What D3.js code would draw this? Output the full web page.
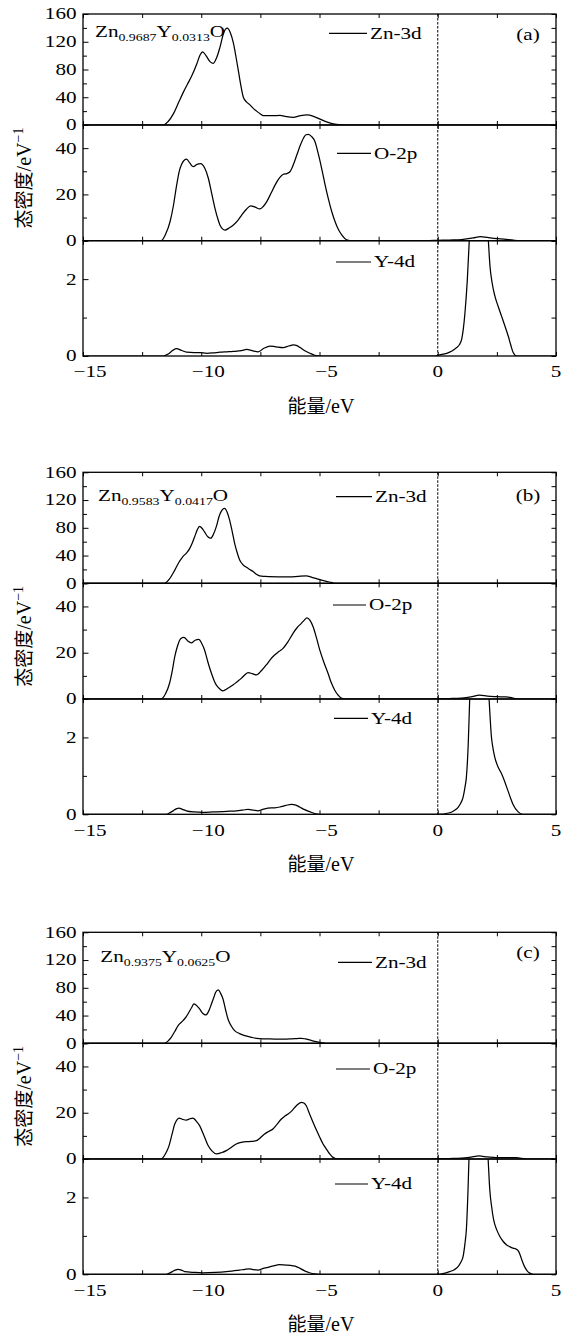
<!DOCTYPE html>
<html>
<head>
<meta charset="utf-8">
<script src="https://cdn.jsdelivr.net/npm/d3@7"></script>
<style>
  body { margin: 0; background: #fff; }
</style>
</head>
<body>
<div id="chart"></div>
<script>
// ---- data ----
// each series: [energy (eV), density of states]
const zn3dA = [[-15,0],[-11.6,0],[-11.4,5],[-11.18,16],[-10.95,33],[-10.76,47],[-10.58,59],[-10.40,71],[-10.19,88],[-10.05,101],[-9.94,105.5],[-9.80,100],[-9.62,91],[-9.49,89],[-9.35,97],[-9.21,112],[-9.05,133],[-8.90,139.5],[-8.77,133],[-8.64,118],[-8.53,98],[-8.43,78],[-8.32,56],[-8.22,40],[-8.08,33],[-7.94,29],[-7.80,24],[-7.66,20],[-7.5,16],[-7.38,13.5],[-7.0,13.5],[-6.67,13.8],[-6.40,12],[-6.11,11],[-5.80,13.5],[-5.54,14.5],[-5.25,12.5],[-4.98,8.5],[-4.7,4.5],[-4.42,1.5],[-4.1,0.2],[-3.9,0],[5,0]];
const o2pA = [[-15,0],[-11.7,0],[-11.5,3],[-11.32,8.2],[-11.18,15],[-11.04,24],[-10.93,30],[-10.83,33],[-10.72,34.8],[-10.62,35.2],[-10.48,33.5],[-10.34,32],[-10.18,33],[-10.02,33.3],[-9.86,31.5],[-9.70,27],[-9.55,20],[-9.42,14],[-9.30,9.5],[-9.21,6.8],[-9.0,4.6],[-8.82,5.5],[-8.64,6.8],[-8.45,8.8],[-8.29,11.1],[-8.1,13.5],[-7.91,15.1],[-7.72,14.5],[-7.52,13.7],[-7.38,14.8],[-7.23,16.9],[-7.05,20.5],[-6.88,24],[-6.70,27],[-6.53,28.7],[-6.38,29],[-6.25,29.8],[-6.10,33],[-5.96,37],[-5.82,41],[-5.68,44.3],[-5.57,45.8],[-5.47,46],[-5.33,45],[-5.19,42.8],[-5.05,37.5],[-4.91,31.3],[-4.77,24.5],[-4.63,18.3],[-4.48,12.5],[-4.34,8.2],[-4.2,4.8],[-4.06,2.5],[-3.85,0.4],[-3.6,0],[-0.5,0],[0,0.15],[0.5,0.3],[1.0,0.5],[1.5,1.2],[1.8,1.8],[2.1,1.4],[2.5,0.9],[2.8,0.7],[3.2,0.2],[3.5,0],[5,0]];
const y4dA = [[-15,0],[-11.6,0],[-11.4,0.05],[-11.2,0.15],[-11.04,0.19],[-10.85,0.15],[-10.62,0.10],[-10.3,0.09],[-10.05,0.09],[-9.77,0.07],[-9.5,0.08],[-9.21,0.10],[-8.9,0.11],[-8.64,0.12],[-8.3,0.14],[-8.08,0.17],[-7.85,0.14],[-7.59,0.11],[-7.35,0.2],[-7.10,0.26],[-6.85,0.24],[-6.54,0.22],[-6.3,0.26],[-6.11,0.29],[-5.95,0.27],[-5.82,0.22],[-5.6,0.13],[-5.40,0.07],[-5.2,0.02],[-4.98,0],[-0.1,0],[0,0.02],[0.38,0.07],[0.6,0.13],[0.80,0.22],[0.92,0.3],[1.01,0.43],[1.08,0.7],[1.15,1.12],[1.25,1.98],[1.33,2.97],[1.45,4.2],[1.75,5],[2.0,4.5],[2.14,3.0],[2.21,2.33],[2.30,1.9],[2.42,1.55],[2.56,1.28],[2.70,1.03],[2.84,0.78],[2.98,0.52],[3.09,0.28],[3.19,0.09],[3.34,0],[5,0]];

const zn3dB = [[-15,0],[-11.55,0],[-11.35,6],[-11.12,19],[-10.95,30],[-10.80,37.5],[-10.62,44],[-10.49,50],[-10.38,58],[-10.28,67],[-10.17,77],[-10.07,82],[-9.96,79],[-9.86,74],[-9.72,67],[-9.60,65],[-9.48,71],[-9.36,82],[-9.25,96],[-9.15,104],[-9.01,108],[-8.90,102],[-8.80,91],[-8.70,76],[-8.59,58],[-8.48,44],[-8.38,34],[-8.24,27],[-8.09,23],[-7.95,20],[-7.81,17],[-7.67,13],[-7.53,10.6],[-7.3,10],[-7.11,9.6],[-6.7,9.3],[-6.26,9.2],[-5.9,10],[-5.56,10.6],[-5.35,9],[-5.13,6.7],[-4.92,4.5],[-4.71,2.9],[-4.5,1.2],[-4.29,0],[5,0]];
const o2pB = [[-15,0],[-11.7,0],[-11.5,2.5],[-11.34,6.8],[-11.22,12.5],[-11.12,18.3],[-11.0,23],[-10.91,25.5],[-10.80,26.5],[-10.73,26.6],[-10.58,25.2],[-10.42,24.3],[-10.26,25.4],[-10.10,25.8],[-9.98,24],[-9.86,21.2],[-9.72,16],[-9.57,11.1],[-9.45,7.8],[-9.36,6.0],[-9.22,4.4],[-9.08,3.5],[-8.88,4.6],[-8.66,6.0],[-8.48,7.5],[-8.31,8.9],[-8.15,10.5],[-8.02,11.4],[-7.85,11],[-7.67,10.4],[-7.45,12.3],[-7.25,14.7],[-7.08,17],[-6.90,19],[-6.72,20.5],[-6.54,21.9],[-6.33,24.8],[-6.12,28.4],[-5.95,30.8],[-5.77,32.7],[-5.65,34],[-5.53,35.1],[-5.40,34],[-5.27,31.2],[-5.13,26.5],[-4.99,21.2],[-4.82,16],[-4.64,11.1],[-4.50,7],[-4.36,3.9],[-4.2,1.5],[-4.08,0.4],[-3.87,0],[-0.3,0],[0,0.1],[0.5,0.2],[1.0,0.4],[1.4,0.9],[1.77,1.7],[2.1,1.2],[2.48,1.0],[2.9,0.9],[3.15,0.5],[3.32,0.1],[3.5,0],[5,0]];
const y4dB = [[-15,0],[-11.48,0],[-11.30,0.05],[-11.19,0.09],[-11.06,0.14],[-10.94,0.16],[-10.80,0.13],[-10.63,0.09],[-10.3,0.06],[-9.93,0.05],[-9.5,0.06],[-9.08,0.07],[-8.8,0.08],[-8.52,0.09],[-8.25,0.11],[-8.02,0.13],[-7.80,0.11],[-7.60,0.09],[-7.40,0.13],[-7.18,0.16],[-6.90,0.17],[-6.68,0.19],[-6.42,0.23],[-6.19,0.26],[-6.0,0.24],[-5.84,0.19],[-5.63,0.12],[-5.42,0.07],[-5.2,0.02],[-5.0,0],[-0.1,0],[0,0],[0.50,0.04],[0.70,0.1],[0.86,0.18],[0.98,0.3],[1.07,0.44],[1.15,0.7],[1.21,0.96],[1.29,1.84],[1.35,2.98],[1.5,4.5],[1.75,5.2],[2.0,4.8],[2.17,3.0],[2.27,2.01],[2.34,1.7],[2.41,1.49],[2.55,1.23],[2.68,1.08],[2.79,0.92],[2.97,0.61],[3.08,0.42],[3.18,0.26],[3.39,0.07],[3.60,0],[5,0]];

const zn3dC = [[-15,0],[-11.55,0],[-11.4,3.5],[-11.27,8.6],[-11.12,17],[-10.98,25.5],[-10.77,32.7],[-10.64,38],[-10.52,44.7],[-10.40,52],[-10.31,56.7],[-10.18,54],[-10.07,49.5],[-9.93,43],[-9.81,40.8],[-9.69,46],[-9.57,56.7],[-9.47,66],[-9.39,73.5],[-9.28,76.9],[-9.18,72],[-9.08,63.9],[-8.97,48],[-8.87,35],[-8.73,25],[-8.59,18.3],[-8.38,14],[-8.16,11],[-7.9,8.8],[-7.67,7.2],[-7.11,6.2],[-6.6,6.1],[-6.26,6.2],[-5.95,6.8],[-5.77,7.2],[-5.6,6.3],[-5.42,4.8],[-5.2,2.8],[-5.0,1.4],[-4.8,0.4],[-4.64,0],[5,0]];
const o2pC = [[-15,0],[-11.7,0],[-11.5,2.5],[-11.36,5.8],[-11.24,10.5],[-11.12,15.1],[-11.02,17],[-10.94,17.7],[-10.78,17.1],[-10.63,16.8],[-10.48,17.4],[-10.35,17.7],[-10.22,16.5],[-10.07,14.4],[-9.90,10.5],[-9.71,5.8],[-9.55,3.5],[-9.36,2.2],[-9.15,2.7],[-8.94,3.6],[-8.73,5.0],[-8.52,6.5],[-8.30,7.2],[-8.09,7.5],[-7.88,7.6],[-7.67,7.9],[-7.50,9.2],[-7.32,10.8],[-7.15,11.9],[-6.97,13],[-6.80,15],[-6.61,17.3],[-6.47,18.5],[-6.33,19.4],[-6.15,21],[-5.98,23],[-5.77,24.5],[-5.66,24.2],[-5.56,23],[-5.42,19.5],[-5.27,15.8],[-5.13,12.5],[-4.99,9.4],[-4.85,6.5],[-4.71,4.3],[-4.57,2.2],[-4.43,0.7],[-4.22,0],[-0.3,0],[0,0.1],[0.5,0.2],[1.0,0.35],[1.4,0.8],[1.74,1.3],[2.1,0.9],[2.48,0.6],[3.0,0.6],[3.32,0.6],[3.55,0.3],[3.75,0],[5,0]];
const y4dC = [[-15,0],[-11.48,0],[-11.35,0.03],[-11.22,0.07],[-11.10,0.11],[-10.98,0.13],[-10.84,0.11],[-10.70,0.07],[-10.3,0.05],[-9.93,0.04],[-9.4,0.05],[-8.94,0.07],[-8.65,0.09],[-8.38,0.11],[-8.15,0.13],[-7.95,0.14],[-7.78,0.12],[-7.60,0.11],[-7.40,0.15],[-7.18,0.18],[-6.95,0.22],[-6.68,0.25],[-6.40,0.24],[-6.12,0.22],[-5.98,0.2],[-5.84,0.16],[-5.63,0.09],[-5.42,0.04],[-5.2,0.01],[-5.0,0],[-0.1,0],[0,0],[0.50,0.07],[0.70,0.12],[0.86,0.2],[0.98,0.32],[1.07,0.46],[1.15,0.8],[1.21,1.16],[1.28,2.2],[1.32,3.0],[1.45,4.5],[1.72,5.3],[1.98,4.6],[2.13,3.0],[2.20,2.2],[2.28,1.75],[2.36,1.43],[2.50,1.15],[2.62,0.99],[2.76,0.86],[2.90,0.77],[3.04,0.72],[3.18,0.68],[3.30,0.66],[3.39,0.62],[3.46,0.54],[3.53,0.42],[3.60,0.3],[3.67,0.2],[3.78,0.09],[3.89,0.03],[4.03,0],[5,0]];

const seriesNames = ["Zn-3d", "O-2p", "Y-4d"];
const panelLetters = ["(a)", "(b)", "(c)"];
const compounds = [["0.9687", "0.0313"], ["0.9583", "0.0417"], ["0.9375", "0.0625"]];
const yMax = [160, 50, 3];
const yStep = [20, 10, 1];
const yTickLabels = [[0, 40, 80, 120, 160], [0, 20, 40], [0, 2]];
const xTickLabels = [-15, -10, -5, 0, 5];
const xMinorTicks = d3.range(-15, 5.01, 2.5);

// ---- layout ----
const panelTops = [14, 472.3, 932.3];
const rowH = [111, 115.7, 115.3];
const compoundPos = [[95, 23.3], [98, 28.4], [100.3, 29.4]];
const letterY = [26, 28.7, 25.7];
// legend [x0, x1, dy from subplot top]
const legendPos = [
  [[329, 367, 19.3], [337, 371, 28.3], [336, 371, 21.3]],
  [[336, 372, 24.4], [333, 366, 21.7], [334, 368, 19.3]],
  [[338, 372, 30], [336, 370, 25.7], [335, 368, 25]]
];

const W = 571, H = 1336;
const SX = 1.32;
const serif = "'Liberation Serif', 'Times New Roman', serif";
const cjk = "'Noto Sans CJK SC', sans-serif";

const svg = d3.select("#chart").append("svg")
  .attr("width", W).attr("height", H)
  .style("background", "#fff");

const x = d3.scaleLinear().domain([-15, 5]).range([83, 556]);

function stext(g, px, py, s, anchor) {
  return g.append("text")
    .attr("transform", `translate(${px},${py}) scale(${SX},1)`)
    .attr("text-anchor", anchor)
    .attr("font-family", serif)
    .attr("font-size", 16)
    .attr("fill", "#000")
    .text(s);
}

const allSeries = [[zn3dA, o2pA, y4dA], [zn3dB, o2pB, y4dB], [zn3dC, o2pC, y4dC]];

allSeries.forEach((rows, p) => {
  const g = svg.append("g");
  let top = panelTops[p];
  const tops = [];
  rows.forEach((data, r) => {
    const t = top, b = top + rowH[r];
    tops.push(t);
    top = b;
    const y = d3.scaleLinear().domain([0, yMax[r]]).range([b, t]);
    const id = `clip${p}${r}`;
    g.append("clipPath").attr("id", id)
      .append("rect").attr("x", 83).attr("y", t).attr("width", 473).attr("height", b - t);

    // curve
    const line = d3.line().x(d => x(d[0])).y(d => y(d[1])).curve(d3.curveMonotoneX);
    g.append("path").datum(data)
      .attr("clip-path", `url(#${id})`)
      .attr("fill", "none").attr("stroke", "#000").attr("stroke-width", 1.25)
      .attr("d", line);

    // ticks
    const all = d3.range(0, yMax[r] + 1e-9, yStep[r]);
    const majors = yTickLabels[r];
    const minors = all.filter(v => !majors.includes(v));
    const tickStyle = sel => { sel.select(".domain").remove(); sel.selectAll("line").attr("stroke", "#000").attr("stroke-width", 1); };
    g.append("g").attr("transform", "translate(83,0)")
      .call(d3.axisLeft(y).tickValues(majors).tickSize(-5.5).tickFormat("")).call(tickStyle);
    g.append("g").attr("transform", "translate(83,0)")
      .call(d3.axisLeft(y).tickValues(minors).tickSize(-4).tickFormat("")).call(tickStyle);
    g.append("g").attr("transform", "translate(556,0)")
      .call(d3.axisRight(y).tickValues(all).tickSize(-4.5).tickFormat("")).call(tickStyle);
    g.append("g").attr("transform", `translate(0,${b})`)
      .call(d3.axisBottom(x).tickValues(xMinorTicks).tickSize(-4).tickFormat("")).call(tickStyle);
    g.append("g").attr("transform", `translate(0,${t})`)
      .call(d3.axisTop(x).tickValues(xMinorTicks).tickSize(-4).tickFormat("")).call(tickStyle);

    // tick labels
    majors.forEach(v => {
      stext(g, 76.5, y(v), String(v), "end").attr("dy", "0.34em");
    });

    // frame
    g.append("rect").attr("x", 83).attr("y", t).attr("width", 473).attr("height", b - t)
      .attr("fill", "none").attr("stroke", "#000").attr("stroke-width", 1.3);

    // legend
    const lp = legendPos[p][r];
    g.append("line").attr("x1", lp[0]).attr("x2", lp[1])
      .attr("y1", t + lp[2]).attr("y2", t + lp[2])
      .attr("stroke", "#000").attr("stroke-width", 1.2);
    stext(g, lp[1] + 3, t + lp[2], seriesNames[r], "start").attr("dy", "0.34em");
  });

  const yTop = panelTops[p], yBot = top;
  // Fermi level
  g.append("line").attr("x1", x(0)).attr("x2", x(0)).attr("y1", yTop).attr("y2", yBot)
    .attr("stroke", "#000").attr("stroke-width", 1).attr("stroke-dasharray", "2.5,1.5");

  // x tick labels
  xTickLabels.forEach(v => {
    const s = v < 0 ? "\u2212" + Math.abs(v) : String(v);
    stext(g, x(v) + (v < 0 ? 7 : 0), yBot + 21.3, s, "middle");
  });

  // compound label
  const cp = compoundPos[p];
  const ct = g.append("text")
    .attr("transform", `translate(${cp[0]},${yTop + cp[1]}) scale(${SX},1)`)
    .attr("font-family", serif).attr("font-size", 16).attr("fill", "#000");
  ct.append("tspan").text("Zn");
  ct.append("tspan").attr("font-size", 10.5).attr("dy", 4).text(compounds[p][0]);
  ct.append("tspan").attr("dy", -4).text("Y");
  ct.append("tspan").attr("font-size", 10.5).attr("dy", 4).text(compounds[p][1]);
  ct.append("tspan").attr("dy", -4).text("O");

  // panel letter
  stext(g, 528, yTop + letterY[p], panelLetters[p], "middle");

  // axis titles
  const yl = g.append("text")
    .attr("transform", `translate(31,${yTop + 164}) rotate(-90)`)
    .attr("text-anchor", "middle").attr("fill", "#000");
  yl.append("tspan").attr("font-family", cjk).attr("font-size", 19).text("态密度");
  yl.append("tspan").attr("font-family", serif).attr("font-size", 20).text("/eV");
  yl.append("tspan").attr("font-family", serif).attr("font-size", 14).attr("dy", -8).text("\u22121");

  const xl = g.append("text")
    .attr("transform", `translate(321,${yBot + 56.5})`)
    .attr("text-anchor", "middle").attr("fill", "#000");
  xl.append("tspan").attr("font-family", cjk).attr("font-size", 19).text("能量");
  xl.append("tspan").attr("font-family", serif).attr("font-size", 20).text("/eV");
});
</script>
</body>
</html>
